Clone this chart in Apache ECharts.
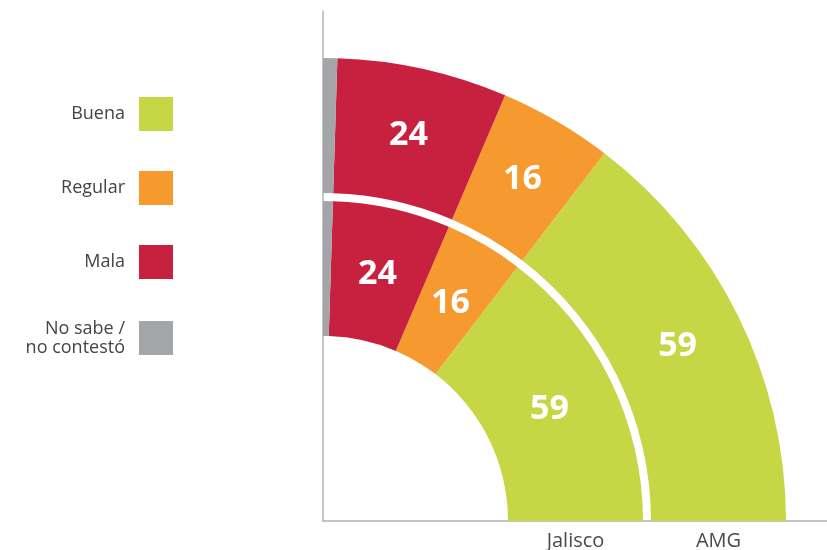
<!DOCTYPE html>
<html>
<head>
<meta charset="utf-8">
<script src="https://cdn.jsdelivr.net/npm/echarts@6/dist/echarts.min.js"></script>
<style>html,body{margin:0;padding:0;background:#fff;}#c{width:827px;height:550px;}</style>
</head>
<body>
<div id="c"></div>
<script>
const categories = ['Jalisco', 'AMG'];
const seriesNames = ['Buena', 'Regular', 'Mala', 'No sabe /\nno contestó'];
const buena = [59, 59];
const regular = [16, 16];
const mala = [24, 24];
const noSabe = [2, 2];
const seriesValues = [buena, regular, mala, noSabe];
const colors = ['#c6d645', '#f6992f', '#c8213f', '#a3a5a8'];

const total = buena[0] + regular[0] + mala[0] + noSabe[0];
const chart = echarts.init(document.getElementById('c'));
const font = 'Open Sans';

const series = seriesNames.map((name, i) => ({
  name: name,
  type: 'bar',
  coordinateSystem: 'polar',
  stack: 'all',
  data: seriesValues[i],
  barCategoryGap: '5.6%',
  itemStyle: { color: colors[i] },
  label: {
    show: i < 3,
    position: 'middle',
    rotate: 0,
    color: '#fff',
    fontSize: 34,
    fontWeight: 'bold',
    fontFamily: font,
    formatter: '{c}'
  },
  emphasis: { disabled: true },
  animation: false
}));

chart.setOption({
  animation: false,
  backgroundColor: '#fff',
  grid: { left: 323, top: 11, right: 0, bottom: 29 },
  xAxis: {
    type: 'value', min: 0, max: 1,
    axisLine: { show: true, lineStyle: { color: '#b3b3b3', width: 1.5 } },
    axisTick: { show: false }, axisLabel: { show: false }, splitLine: { show: false }
  },
  yAxis: {
    type: 'value', min: 0, max: 1,
    axisLine: { show: true, lineStyle: { color: '#b3b3b3', width: 1.5 } },
    axisTick: { show: false }, axisLabel: { show: false }, splitLine: { show: false }
  },
  polar: { center: [323, 521], radius: [181, 467] },
  angleAxis: {
    type: 'value', min: 0, max: total * 4, startAngle: 0, clockwise: false,
    show: false
  },
  radiusAxis: {
    type: 'category',
    data: categories,
    axisLine: { show: false },
    axisTick: { show: false },
    splitLine: { show: false },
    axisLabel: {
      show: true, margin: -30, color: '#4a4a4a', fontSize: 20, fontFamily: font
    },
    z: 10
  },
  legend: {
    data: seriesNames,
    orient: 'vertical',
    align: 'right',
    right: 649,
    top: 92,
    icon: 'rect',
    itemWidth: 34,
    itemHeight: 34,
    itemGap: 40,
    selectedMode: false,
    textStyle: { fontSize: 18, color: '#444', fontFamily: font, lineHeight: 19, padding: [0, 9, 0, 0] }
  },
  series: series
});
</script>
</body>
</html>
